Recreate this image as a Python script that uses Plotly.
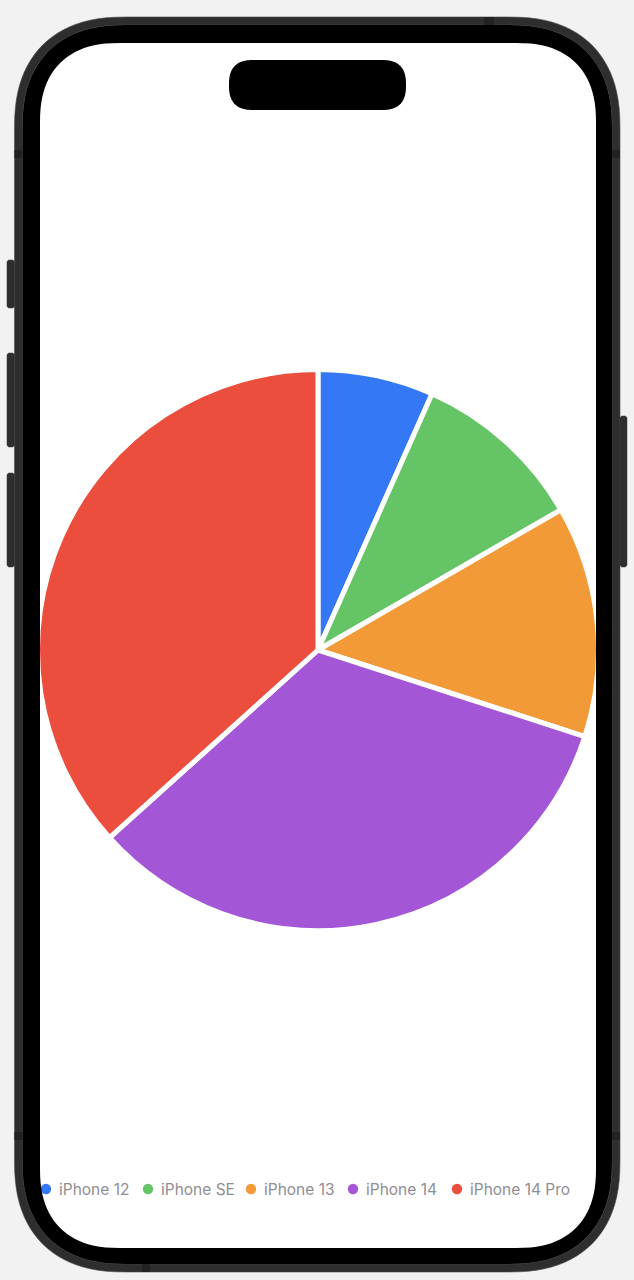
import math
import plotly.graph_objects as go

# ---------------- data ----------------
labels = ["iPhone 12", "iPhone SE", "iPhone 13", "iPhone 14", "iPhone 14 Pro"]
values = [2, 3, 4, 10, 11]
colors = ["#3478F6", "#65C466", "#F19A37", "#A357D7", "#EB4E3D"]

# ---------------- layout constants (pixels) ----------------
W, H = 634, 1280
SCREEN = (40, 43, 596, 1248)
BODY = (14.5, 17, 620, 1272)
PIE_CX, PIE_CY, PIE_R = 318, 650, 280.5
LEG_Y = 1189
LEG_DOT_X = [46, 148, 251, 353, 457]
LEG_TEXT_GAP = 10.5


def px(x):
    return x / W


def py(y):
    return 1 - y / H


def squircle_pts(x0, y0, x1, y1, a, n, steps=24):
    pts = []
    corners = [
        (x1 - a, y0 + a),   # top-right
        (x1 - a, y1 - a),   # bottom-right
        (x0 + a, y1 - a),   # bottom-left
        (x0 + a, y0 + a),   # top-left
    ]
    start_angles = [-90, 0, 90, 180]
    for (cx, cy), sa in zip(corners, start_angles):
        for i in range(steps + 1):
            t = math.radians(sa + 90 * i / steps)
            c, s = math.cos(t), math.sin(t)
            ex = math.copysign(abs(c) ** (2 / n), c)
            ey = math.copysign(abs(s) ** (2 / n), s)
            pts.append((cx + a * ex, cy + a * ey))
    return pts


def path_from(pts):
    d = "M {:.5f},{:.5f} ".format(px(pts[0][0]), py(pts[0][1]))
    d += " ".join("L {:.5f},{:.5f}".format(px(x), py(y)) for x, y in pts[1:])
    return d + " Z"


def rr(box, a, n=2.4):
    return path_from(squircle_pts(*box, a, n))


shapes = []

# white screen (below the pie)
shapes.append(dict(type="path", layer="below", xref="paper", yref="paper",
                   path=rr(SCREEN, 80), fillcolor="#FFFFFF", line=dict(width=0)))

# legend dots
for i, col in enumerate(colors):
    cx = LEG_DOT_X[i]
    shapes.append(dict(type="circle", layer="above", xref="paper", yref="paper",
                       x0=px(cx - 5.2), x1=px(cx + 5.2), y0=py(LEG_Y + 5.2), y1=py(LEG_Y - 5.2),
                       fillcolor=col, line=dict(width=0)))

# phone frame rings
inner8 = (BODY[0] + 8, BODY[1] + 8, BODY[2] - 8, BODY[3] - 8)
shapes.append(dict(type="path", layer="above", xref="paper", yref="paper",
                   path=rr(BODY, 112) + " " + rr(inner8, 104), fillrule="evenodd",
                   fillcolor="#2E2E2E", line=dict(color="#4A4A4A", width=0.6)))
shapes.append(dict(type="path", layer="above", xref="paper", yref="paper",
                   path=rr(inner8, 104) + " " + rr(SCREEN, 80), fillrule="evenodd",
                   fillcolor="#000000", line=dict(width=0)))

# side buttons
for (x0, y0, x1, y1) in [(7, 260, 14.5, 308), (7, 353, 14.5, 447), (7, 473, 14.5, 567),
                         (620, 416, 627, 567)]:
    shapes.append(dict(type="path", layer="above", xref="paper", yref="paper",
                       path=rr((x0, y0, x1, y1), 2.5, 2), fillcolor="#2E2E2E",
                       line=dict(color="#3A3A3A", width=0.5)))

# antenna bands
for (x0, y0, x1, y1) in [(484, 17, 494, 25), (14.5, 150, 22.5, 158), (612, 150, 620, 158),
                         (14.5, 1132, 22.5, 1140), (612, 1132, 620, 1140), (142, 1264, 150, 1272)]:
    shapes.append(dict(type="rect", layer="above", xref="paper", yref="paper",
                       x0=px(x0), x1=px(x1), y0=py(y1), y1=py(y0),
                       fillcolor="#222222", line=dict(width=0)))

# dynamic island
shapes.append(dict(type="path", layer="above", xref="paper", yref="paper",
                   path=rr((229, 60, 406, 110), 25, 2.6), fillcolor="#000000",
                   line=dict(width=0)))

annotations = []
for i, lab in enumerate(labels):
    annotations.append(dict(xref="paper", yref="paper", x=px(LEG_DOT_X[i] + LEG_TEXT_GAP),
                            y=py(LEG_Y), xanchor="left", yanchor="middle", showarrow=False,
                            text=lab, font=dict(family="Inter", size=15.5, color="#8E8E93")))

fig = go.Figure(go.Pie(
    labels=labels, values=values, sort=False, direction="clockwise", rotation=0,
    marker=dict(colors=colors, line=dict(color="#FFFFFF", width=5)),
    textinfo="none", hoverinfo="label+value", showlegend=False,
    domain=dict(x=[px(PIE_CX - PIE_R), px(PIE_CX + PIE_R)],
                y=[py(PIE_CY + PIE_R), py(PIE_CY - PIE_R)]),
))

fig.update_layout(
    width=W, height=H, margin=dict(l=0, r=0, t=0, b=0),
    paper_bgcolor="#F2F2F2", plot_bgcolor="#F2F2F2",
    showlegend=False, shapes=shapes, annotations=annotations,
)

fig.write_html("out.html")
